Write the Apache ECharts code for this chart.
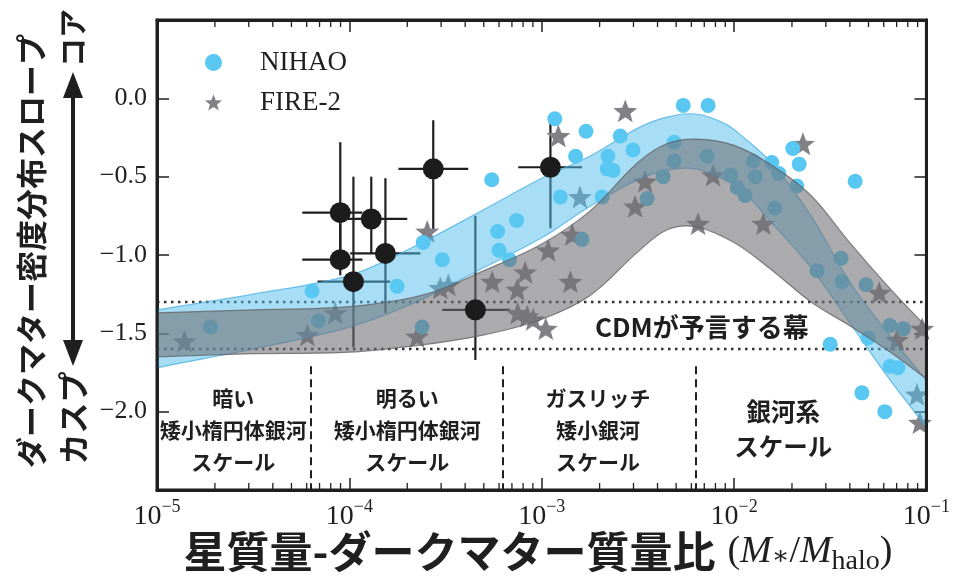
<!DOCTYPE html>
<html>
<head>
<meta charset="utf-8">
<script src="https://cdn.jsdelivr.net/npm/echarts@6/dist/echarts.min.js"></script>
<style>
  html, body { margin: 0; padding: 0; background: #fff; }
  #chart { width: 953px; height: 584px; }
</style>
</head>
<body>
<div id="chart"></div>
<script>
// NIHAO simulations (blue dots)
const nihaoMass = [1.9e-5, 6.4e-5, 6.9e-5, 1.77e-4, 2.39e-4, 2.42e-4, 3.04e-4, 5.5e-4, 7.4e-4, 5.9e-4,
  6.0e-4, 6.8e-4, 1.17e-3, 1.70e-3, 1.50e-3, 1.25e-3, 1.62e-3, 2.21e-3, 2.19e-3, 2.35e-3,
  2.56e-3, 2.98e-3, 2.06e-3, 3.53e-3, 4.28e-3, 4.88e-3, 4.88e-3, 5.44e-3, 7.33e-3, 7.24e-3,
  9.6e-3, 1.04e-2, 1.14e-2, 1.26e-2, 1.29e-2, 1.57e-2, 1.71e-2, 1.63e-2, 2.02e-2, 2.18e-2,
  2.12e-2, 4.26e-2, 2.70e-2, 3.60e-2, 3.64e-2, 4.85e-2, 3.16e-2, 4.97e-2, 6.46e-2, 7.6e-2,
  6.46e-2, 7.1e-2, 4.62e-2, 6.08e-2]
const nihaoSlope = [-1.46, -1.23, -1.42, -1.20, -1.46, -0.92, -1.03, -0.52, -0.78, -0.85,
  -0.97, -1.03, -0.13, -0.21, -0.37, -0.63, -0.90, -0.37, -0.45, -0.46,
  -0.24, -0.33, -0.63, -0.64, -0.50, -0.28, -0.40, -0.045, -0.045, -0.37,
  -0.49, -0.57, -0.62, -0.40, -0.50, -0.41, -0.48, -0.70, -0.32, -0.42,
  -0.56, -0.53, -1.10, -1.02, -1.17, -1.19, -1.57, -1.53, -1.45, -1.47,
  -1.71, -1.72, -1.88, -2.0]

// FIRE-2 simulations (grey stars)
const fireMass = [1.39e-5, 6.05e-5, 8.45e-5, 2.25e-4, 2.54e-4, 2.97e-4, 3.27e-4, 5.53e-4, 8.2e-4, 7.46e-4,
  1.41e-3, 7.5e-4, 8.41e-4, 9.03e-4, 1.05e-3, 1.08e-3, 1.44e-3, 1.58e-3, 1.22e-3, 2.72e-3,
  3.45e-3, 3.06e-3, 6.5e-3, 7.78e-3, 1.42e-2, 2.28e-2, 5.68e-2, 7.03e-2, 8.93e-2, 9.25e-2, 9.5e-2]
const fireSlope = [-1.55, -1.51, -1.37, -1.52, -0.85, -1.21, -1.19, -1.17, -1.11, -1.22,
  -1.17, -1.37, -1.39, -1.41, -1.47, -0.97, -0.87, -0.63, -0.24, -0.08,
  -0.53, -0.69, -0.80, -0.49, -0.80, -0.29, -1.24, -1.54, -1.89, -2.07, -1.47]

// observed dwarfs with error bars (black)
const obsMass = [8.97e-5, 8.97e-5, 1.05e-4, 1.30e-4, 1.54e-4, 2.73e-4, 4.52e-4, 1.11e-3]
const obsSlope = [-0.73, -1.03, -1.17, -0.77, -0.99, -0.45, -1.35, -0.44]
const obsMassLo = [5.69e-5, 5.69e-5, 6.83e-5, 9.77e-5, 1.01e-4, 1.80e-4, 3.04e-4, 7.55e-4]
const obsMassHi = [1.17e-4, 1.17e-4, 1.63e-4, 2.0e-4, 2.34e-4, 4.15e-4, 6.85e-4, 1.62e-3]
const obsSlopeLo = [-1.05, -1.13, -1.59, -0.99, -1.37, -0.85, -1.67, -0.83]
const obsSlopeHi = [-0.28, -0.80, -0.50, -0.50, -0.51, -0.14, -0.75, -0.15]

// bands, x given as log10(M*/Mhalo)
const nihaoBandLogX = [-5.1, -5.0, -4.5, -4.0, -3.67, -3.3, -3.0, -2.75, -2.5, -2.35, -2.2, -2.05, -1.95, -1.8, -1.6, -1.4, -1.2, -1.0, -0.9]
const nihaoBandHi = [-1.37, -1.35, -1.25, -1.13, -0.95, -0.71, -0.51, -0.37, -0.19, -0.12, -0.10, -0.16, -0.25, -0.42, -0.75, -1.17, -1.50, -1.80, -1.95]
const nihaoBandLo = [-1.75, -1.72, -1.60, -1.46, -1.31, -1.08, -0.89, -0.69, -0.52, -0.46, -0.45, -0.52, -0.60, -0.80, -1.08, -1.43, -1.78, -2.10, -2.26]
const fireBandLogX = [-5.1, -5.0, -4.5, -4.0, -3.6, -3.3, -3.0, -2.75, -2.5, -2.35, -2.2, -2.0, -1.8, -1.6, -1.4, -1.2, -1.0, -0.9]
const fireBandHi = [-1.37, -1.37, -1.35, -1.33, -1.25, -1.10, -0.93, -0.72, -0.41, -0.29, -0.26, -0.30, -0.43, -0.62, -0.92, -1.20, -1.46, -1.59]
const fireBandLo = [-1.65, -1.65, -1.63, -1.62, -1.57, -1.51, -1.41, -1.26, -0.98, -0.84, -0.82, -0.92, -1.10, -1.30, -1.45, -1.61, -1.79, -1.88]

// CDM range and scale dividers
const cdmRange = [-1.3, -1.6]
const scaleEdges = [6.3e-5, 6.3e-4, 6.3e-3]
const scaleEdgeTop = -1.71
const regionLabels = ['暗い\n矮小楕円体銀河\nスケール', '明るい\n矮小楕円体銀河\nスケール', 'ガスリッチ\n矮小銀河\nスケール', '銀河系\nスケール', 'CDMが予言する幕']
const regionMass = [2.49e-5, 2.0e-4, 1.96e-3, 1.8e-2, 6.8e-3]
const regionSlope = [-2.115, -2.115, -2.115, -2.11, -1.46]

// axes
const xMin = 1e-5
const xMax = 1e-1
const yMin = -2.5
const yMax = 0.5
const minorMantissas = [2, 3, 4, 5, 6, 7, 8, 9]
const decades = [1e-5, 1e-4, 1e-3, 1e-2]

const SERIF = '"Liberation Serif", "DejaVu Serif", serif'
const JP = '"Noto Sans CJK JP", "Noto Sans CJK SC", sans-serif'
const INK = '#1f1f1f'

function starPath() {
  const pts = []
  for (let i = 0; i < 10; i++) {
    const r = i % 2 === 0 ? 1 : 0.42
    const a = -Math.PI / 2 + i * Math.PI / 5
    pts.push((r * Math.cos(a)).toFixed(4) + ',' + (r * Math.sin(a)).toFixed(4))
  }
  return 'path://M' + pts.join('L') + 'Z'
}

function zip(a, b) {
  return a.map((v, i) => [v, b[i]])
}

function bandSeries(name, logX, hi, lo, fill, stroke, z) {
  return {
    name: name,
    type: 'custom',
    silent: true,
    z: z,
    data: logX.map((lx, i) => [Math.pow(10, lx), lo[i], hi[i]]),
    encode: { x: 0, y: [1, 2] },
    renderItem(params, api) {
      if (params.dataIndex !== 0) return null
      const top = logX.map((lx, i) => api.coord([Math.pow(10, lx), hi[i]]))
      const bot = logX.map((lx, i) => api.coord([Math.pow(10, lx), lo[i]]))
      const cs = params.coordSys
      return {
        type: 'group',
        clipPath: { type: 'rect', shape: { x: cs.x, y: cs.y, width: cs.width, height: cs.height } },
        children: [
          { type: 'polygon', shape: { points: top.concat(bot.slice().reverse()), smooth: 0.35 }, style: { fill: fill } },
          { type: 'polyline', shape: { points: top, smooth: 0.35 }, style: { stroke: stroke, lineWidth: 1.2, fill: null } },
          { type: 'polyline', shape: { points: bot, smooth: 0.35 }, style: { stroke: stroke, lineWidth: 1.2, fill: null } }
        ]
      }
    }
  }
}

const minorTicks = []
decades.forEach(d => minorMantissas.forEach(m => minorTicks.push(d * m)))

const chart = echarts.init(document.getElementById('chart'))

const xAxisBase = {
  type: 'log',
  logBase: 10,
  min: xMin,
  max: xMax,
  axisLine: { show: true, onZero: false, lineStyle: { color: INK, width: 3 } },
  axisTick: { show: true, inside: true, length: 12, lineStyle: { color: INK, width: 1.5 } },
  splitLine: { show: false },
  minorTick: { show: false }
}
const yAxisBase = {
  type: 'value',
  min: yMin,
  max: yMax,
  interval: 0.5,
  axisLine: { show: true, onZero: false, lineStyle: { color: INK, width: 3 } },
  axisTick: { show: true, inside: true, length: 12, lineStyle: { color: INK, width: 1.5 } },
  splitLine: { show: false }
}

const option = {
  animation: false,
  backgroundColor: '#fff',
  grid: { left: 157, right: 26, top: 20, bottom: 94, show: true, borderWidth: 3, borderColor: INK, z: 9 },
  legend: {
    data: ['NIHAO', 'FIRE-2'],
    orient: 'vertical',
    left: 200,
    top: 44,
    itemWidth: 17,
    itemHeight: 17,
    itemGap: 13,
    textStyle: { fontFamily: SERIF, fontSize: 27, color: INK, lineHeight: 26, padding: [0, 0, 0, 33] }
  },
  xAxis: [
    Object.assign({}, xAxisBase, {
      position: 'bottom',
      axisLabel: {
        margin: 8,
        formatter: v => '{b|10}{s|\u2212' + Math.round(-Math.log10(v)) + '}',
        rich: {
          b: { fontFamily: SERIF, fontSize: 28, color: INK },
          s: { fontFamily: SERIF, fontSize: 18, color: INK, padding: [0, 0, 20, 0] }
        }
      }
    }),
    Object.assign({}, xAxisBase, { position: 'top', axisLabel: { show: false } })
  ],
  yAxis: [
    Object.assign({}, yAxisBase, {
      position: 'left',
      axisLabel: {
        margin: 10,
        showMinLabel: false,
        showMaxLabel: false,
        fontFamily: SERIF,
        fontSize: 26,
        color: INK,
        formatter: v => v.toFixed(1).replace('-', '\u2212')
      }
    }),
    Object.assign({}, yAxisBase, { position: 'right', axisLabel: { show: false } })
  ],
  series: [
    {
      // error bars, below the bands
      name: 'obsErr',
      type: 'custom',
      silent: true,
      z: 1,
      data: obsMass.map((x, i) => [x, obsSlope[i], obsMassLo[i], obsMassHi[i], obsSlopeLo[i], obsSlopeHi[i]]),
      renderItem(params, api) {
        const a = api.coord([api.value(2), api.value(1)])
        const b = api.coord([api.value(3), api.value(1)])
        const c = api.coord([api.value(0), api.value(4)])
        const d = api.coord([api.value(0), api.value(5)])
        const st = { stroke: INK, lineWidth: 2.2 }
        return {
          type: 'group',
          children: [
            { type: 'line', shape: { x1: a[0], y1: a[1], x2: b[0], y2: b[1] }, style: st },
            { type: 'line', shape: { x1: c[0], y1: c[1], x2: d[0], y2: d[1] }, style: st }
          ]
        }
      },
      markLine: {
        silent: true,
        z: 1,
        symbol: 'none',
        label: { show: false },
        data: cdmRange.map(v => ({ yAxis: v, lineStyle: { type: [2.5, 4.5], color: '#333', width: 2.4 } }))
          .concat(scaleEdges.map(x => [
            { coord: [x, scaleEdgeTop], lineStyle: { type: [8, 5], color: INK, width: 2 } },
            { coord: [x, yMin] }
          ]))
      }
    },
    {
      name: 'FIRE-2',
      type: 'scatter',
      z: 1,
      symbol: starPath(),
      symbolKeepAspect: true,
      symbolSize: 24,
      itemStyle: { color: '#808085', opacity: 1 },
      data: zip(fireMass, fireSlope)
    },
    bandSeries('nihaoBand', nihaoBandLogX, nihaoBandHi, nihaoBandLo, 'rgba(80,190,238,0.5)', 'rgba(60,170,225,0.7)', 2),
    {
      name: 'NIHAO',
      type: 'scatter',
      z: 3,
      symbol: 'circle',
      symbolSize: 15,
      itemStyle: { color: '#58c7f1', opacity: 1 },
      data: zip(nihaoMass, nihaoSlope)
    },
    bandSeries('fireBand', fireBandLogX, fireBandHi, fireBandLo, 'rgba(110,110,115,0.58)', 'rgba(95,95,100,0.75)', 4),
    {
      name: 'obs',
      type: 'scatter',
      z: 6,
      symbol: 'circle',
      symbolSize: 21,
      itemStyle: { color: '#1c1c1c', opacity: 1 },
      data: zip(obsMass, obsSlope)
    },
    {
      // log minor ticks on bottom and top
      name: 'minorTicks',
      type: 'custom',
      silent: true,
      z: 8,
      data: minorTicks.map(v => [v, yMin]),
      renderItem(params, api) {
        const cs = params.coordSys
        const px = api.coord([api.value(0), yMin])[0]
        const st = { stroke: INK, lineWidth: 1.3 }
        return {
          type: 'group',
          children: [
            { type: 'line', shape: { x1: px, y1: cs.y + cs.height, x2: px, y2: cs.y + cs.height - 7 }, style: st },
            { type: 'line', shape: { x1: px, y1: cs.y, x2: px, y2: cs.y + 7 }, style: st }
          ]
        }
      }
    },
    {
      name: 'labels',
      type: 'custom',
      silent: true,
      z: 7,
      data: zip(regionMass, regionSlope),
      renderItem(params, api) {
        const p = api.coord([api.value(0), api.value(1)])
        const i = params.dataIndex
        const big = i === 3
        const cdm = i === 4
        return {
          type: 'text',
          x: p[0],
          y: p[1],
          style: {
            text: regionLabels[i],
            fontFamily: JP,
            fontWeight: 'bold',
            fontSize: cdm ? 26 : big ? 24.5 : 21,
            lineHeight: big ? 35 : 32,
            fill: INK,
            align: 'center',
            verticalAlign: 'middle'
          }
        }
      }
    }
  ],
  graphic: [
    {
      type: 'text',
      x: 31,
      y: 251,
      rotation: Math.PI / 2,
      style: { text: 'ダークマター密度分布スロープ', fontFamily: JP, fontWeight: 'bold', fontSize: 31, fill: INK, align: 'center', verticalAlign: 'middle' }
    },
    {
      type: 'text',
      x: 73,
      y: 418,
      rotation: Math.PI / 2,
      style: { text: 'カスプ', fontFamily: JP, fontWeight: 'bold', fontSize: 31, fill: INK, align: 'center', verticalAlign: 'middle' }
    },
    {
      type: 'text',
      x: 73,
      y: 38,
      rotation: Math.PI / 2,
      style: { text: 'コア', fontFamily: JP, fontWeight: 'bold', fontSize: 29, fill: INK, align: 'center', verticalAlign: 'middle' }
    },
    {
      type: 'group',
      children: [
        { type: 'line', shape: { x1: 73, y1: 92, x2: 73, y2: 346 }, style: { stroke: INK, lineWidth: 4 } },
        { type: 'polygon', shape: { points: [[73, 72], [63, 98], [83, 98]] }, style: { fill: INK } },
        { type: 'polygon', shape: { points: [[73, 366], [63, 340], [83, 340]] }, style: { fill: INK } }
      ]
    },
    {
      type: 'text',
      x: 538,
      y: 552,
      style: {
        text: '{a|星質量-ダークマター質量比}{pl|(}{m|M}{sub|∗}{p|/}{m|M}{h|halo}{p|)}',
        align: 'center',
        verticalAlign: 'middle',
        rich: {
          a: { fontFamily: JP, fontWeight: 'bold', fontSize: 43, fill: INK },
          pl: { fontFamily: SERIF, fontSize: 38, fill: INK, padding: [0, 0, 0, 12] },
          p: { fontFamily: SERIF, fontSize: 38, fill: INK },
          m: { fontFamily: SERIF, fontStyle: 'italic', fontSize: 38, fill: INK },
          sub: { fontFamily: SERIF, fontSize: 26, fill: INK, padding: [10, 0, 0, 0] },
          h: { fontFamily: SERIF, fontSize: 28, fill: INK, padding: [20, 0, 0, 0] }
        }
      }
    }
  ]
}

chart.setOption(option)
</script>
</body>
</html>
